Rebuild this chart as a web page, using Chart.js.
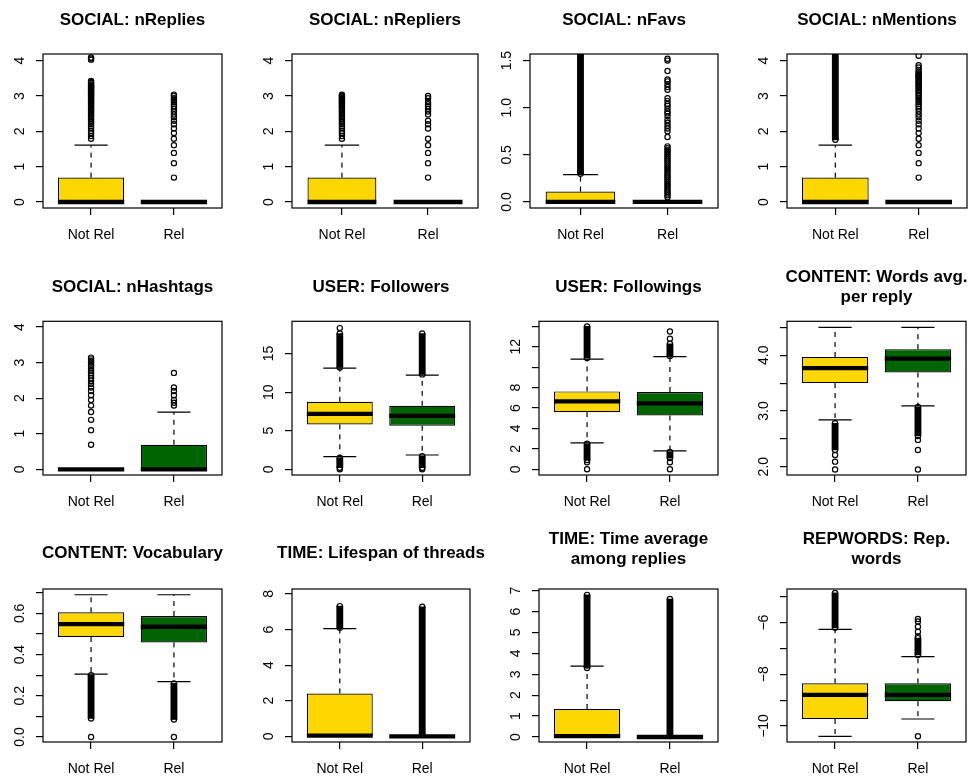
<!DOCTYPE html>
<html>
<head>
<meta charset="utf-8">
<script src="https://cdn.jsdelivr.net/npm/chart.js@4.4.0/dist/chart.umd.min.js"></script>
<style>
  html, body { margin: 0; padding: 0; background: #fff; }
  #wrap { position: relative; width: 976px; height: 778px; overflow: hidden; }
  #wrap canvas { position: absolute; }
</style>
</head>
<body>
<div id="wrap"></div>
<script>
// ---- data ----
var groups = ["Not Rel", "Rel"];
var fills = ["#FFD700", "#006400"];

var titles = [
  ["SOCIAL: nReplies"], ["SOCIAL: nRepliers"], ["SOCIAL: nFavs"], ["SOCIAL: nMentions"],
  ["SOCIAL: nHashtags"], ["USER: Followers"], ["USER: Followings"], ["CONTENT: Words avg.", "per reply"],
  ["CONTENT: Vocabulary"], ["TIME: Lifespan of threads"], ["TIME: Time average", "among replies"], ["REPWORDS: Rep.", "words"]
];

// box stats per panel: [Not Rel, Rel]
var whiskerLow  = [[0,0],[0,0],[0,0],[0,0],[0,0],[1.63,1.85],[2.59,1.80],[2.84,3.09],[0.305,0.269],[0,0],[0,0],[-10.40,-9.73]];
var quart1      = [[0,0],[0,0],[0,0],[0,0],[0,0],[5.82,5.64],[5.60,5.27],[3.50,3.69],[0.485,0.459],[0,0],[0,0],[-9.73,-9.04]];
var medians     = [[0,0],[0,0],[0,0],[0,0],[0,0],[7.19,6.93],[6.65,6.45],[3.77,3.94],[0.548,0.535],[0.04,0],[0.04,0],[-8.80,-8.80]];
var quart3      = [[0.69,0],[0.69,0],[0.11,0],[0.69,0],[0,0.69],[8.75,8.23],[7.63,7.57],[3.97,4.11],[0.605,0.587],[2.41,0.04],[1.34,0.04],[-8.35,-8.35]];
var whiskerHigh = [[1.61,0],[1.61,0],[0.29,0],[1.61,0],[0,1.61],[13.1,12.2],[10.8,11.04],[4.50,4.50],[0.69,0.69],[6.05,0.04],[3.39,0.04],[-6.26,-7.32]];

// single outliers per panel: [Not Rel, Rel]
var outNReplies = [
  [1.79,1.87,1.95,2.01,2.08,2.14,2.20,2.25,2.30,2.35,2.40,2.44,2.48,2.52,2.56,2.60,2.64,2.67,2.71,2.74,2.77,2.80,2.83,2.86,2.89,2.92,2.94,2.97,3.00,3.02,3.04,3.07,3.09,3.11,3.14,3.16,3.18,3.20,3.22,3.24,3.26,3.28,3.30,3.33,3.37,3.40,3.43,4.03,4.06,4.09],
  [0.69,1.10,1.39,1.61,1.79,1.95,2.08,2.20,2.30,2.40,2.48,2.56,2.64,2.71,2.77,2.83,2.89,2.94,3.00,3.04]
];
var outNRepliers = [
  [1.79,1.87,1.95,2.01,2.08,2.14,2.20,2.25,2.30,2.35,2.40,2.44,2.48,2.52,2.56,2.60,2.64,2.67,2.71,2.74,2.77,2.80,2.83,2.86,2.89,2.92,2.94,2.97,3.00,3.02,3.04],
  [0.69,1.10,1.39,1.61,1.79,2.08,2.20,2.30,2.48,2.56,2.64,2.71,2.77,2.83,2.94,3.00]
];
var outNFavs = [
  [],
  [0.05,0.07,0.09,0.11,0.13,0.15,0.17,0.19,0.21,0.23,0.25,0.27,0.29,0.31,0.33,0.35,0.37,0.39,0.41,0.43,0.45,0.47,0.49,0.51,0.53,0.55,0.57,0.59,
   0.69,0.75,0.78,0.81,0.84,0.87,0.91,0.94,0.96,0.99,1.02,1.04,1.07,1.10,1.19,1.22,1.25,1.28,1.30,1.39,1.50,1.52]
];
var outNMentions = [
  [],
  [0.69,1.10,1.39,1.61,1.79,1.95,2.08,2.20,2.30,2.40,2.48,2.56,2.64,2.71,2.77,2.83,2.89,2.94,3.00,3.04,3.09,3.14,3.18,3.22,3.26,3.30,3.33,3.37,3.40,3.43,3.47,3.50,3.53,3.56,3.58,3.61,3.64,3.69,3.74,3.81,3.87,4.14]
];
var outNHashtags = [
  [0.69,1.10,1.39,1.61,1.79,1.95,2.08,2.20,2.30,2.40,2.48,2.56,2.64,2.71,2.77,2.83,2.89,2.94,3.00,3.04,3.09,3.14],
  [1.79,1.87,1.95,2.08,2.20,2.30,2.71]
];
var outFollowers  = [[18.3, 0], [0]];
var outFollowings = [[0.69, 0], [12.8, 13.5, 0.69, 0]];
var outWordsAvg   = [[2.21, 2.09, 1.95], [2.48, 2.30, 1.95]];
var outVocabulary = [[0], [0]];
var outLifespan   = [[], []];
var outTimeAvg    = [[], []];
var outRepWords   = [[], [-6.54, -6.35, -6.16, -5.96, -5.86, -10.40]];

// runs of overlapping outliers (from, to) per panel: [Not Rel, Rel]
var denseNReplies  = [[], []];
var denseNRepliers = [[], []];
var denseNFavs     = [[[0.30, 1.65]], []];
var denseNMentions = [[[1.76, 4.30]], []];
var denseNHashtags = [[], []];
var denseFollowers  = [[[13.2, 17.6], [0.2, 1.5]], [[12.3, 17.6], [0.2, 1.7]]];
var denseFollowings = [[[10.9, 14.0], [0.9, 2.5]], [[11.1, 12.3], [1.1, 1.7]]];
var denseWordsAvg   = [[[2.30, 2.78]], [[2.55, 3.07]]];
var denseVocabulary = [[[0.09, 0.30]], [[0.085, 0.26]]];
var denseLifespan   = [[[6.1, 7.32]], [[0.1, 7.28]]];
var denseTimeAvg    = [[[3.3, 6.8]], [[0.05, 6.6]]];
var denseRepWords   = [[[-6.2, -4.85]], [[-7.25, -6.6]]];

var outlierPoints = [outNReplies, outNRepliers, outNFavs, outNMentions, outNHashtags, outFollowers,
  outFollowings, outWordsAvg, outVocabulary, outLifespan, outTimeAvg, outRepWords];
var denseOutliers = [denseNReplies, denseNRepliers, denseNFavs, denseNMentions, denseNHashtags, denseFollowers,
  denseFollowings, denseWordsAvg, denseVocabulary, denseLifespan, denseTimeAvg, denseRepWords];

// y axes
var yMin = [-0.17, -0.17, -0.064, -0.17, -0.16, -0.74, -0.56, 1.85, -0.024, -0.32, -0.24, -10.62];
var yMax = [4.19, 4.19, 1.57, 4.19, 4.16, 19.18, 14.5, 4.61, 0.718, 8.28, 7.08, -4.70];
var yTicks = [
  [0,1,2,3,4], [0,1,2,3,4], [0,0.5,1,1.5], [0,1,2,3,4], [0,1,2,3,4], [0,5,10,15],
  [0,2,4,6,8,10,12,14], [2,2.5,3,3.5,4,4.5], [0,0.1,0.2,0.3,0.4,0.5,0.6,0.7],
  [0,2,4,6,8], [0,1,2,3,4,5,6,7], [-10,-9,-8,-7,-6,-5]
];
var yTickLabels = [
  ["0","1","2","3","4"], ["0","1","2","3","4"], ["0.0","0.5","1.0","1.5"], ["0","1","2","3","4"],
  ["0","1","2","3","4"], ["0","5","10","15"], ["0","2","4","6","8","","12",""],
  ["2.0","","3.0","","4.0",""], ["0.0","","0.2","","0.4","","0.6",""],
  ["0","2","4","6","8"], ["0","1","2","3","4","5","6","7"], ["\u221210","","\u22128","","\u22126",""]
];

// ---- layout ----
var boxLeft  = [43.3, 291.7, 530, 787.3, 43.3, 291.7, 539.3, 787.3, 43.3, 291.7, 539.3, 787.3];
var boxRight = [222.7, 477.3, 718.3, 967.3, 222.7, 470, 718.3, 966.7, 222.7, 470, 718.3, 966.7];
var rowTop = [54, 321.3, 589];
var rowBottom = [208.3, 475, 741.7];
var titleMid = [[19.7, 19.7], [287, 276.7], [553, 538.8]];
var stapleFrac = [0.5, 0.5, 0.5, 0.5, 0.5, 0.5, 0.5, 0.5, 0.5, 0.5, 0.5, 0.5];
var M = 60, AXIS_H = 45, LINE_H = 17 * 1.15;
var FONT = '"Liberation Sans", Arial, Helvetica, sans-serif';

function makePanel(i) {
  var row = Math.floor(i / 4);
  var lines = titles[i].length;
  var mid = titleMid[row][lines - 1] + 0.8;
  var top = Math.floor(mid - LINE_H / 2 - 3);
  var padTop = mid - LINE_H / 2 - top;
  var padBottom = rowTop[row] - top - padTop - lines * LINE_H;
  var left = Math.round(boxLeft[i] - M);
  var w = Math.round(boxRight[i] - boxLeft[i]) + 2 * M;
  var h = Math.round(rowBottom[row] - top) + AXIS_H;

  var cv = document.createElement('canvas');
  cv.width = w; cv.height = h;
  cv.style.left = left + 'px'; cv.style.top = top + 'px';
  document.getElementById('wrap').appendChild(cv);

  var points = [], runs = [], boxes = [];
  for (var g = 0; g < 2; g++) {
    outlierPoints[i][g].forEach(function (v) { points.push({x: g + 1, y: v}); });
    denseOutliers[i][g].forEach(function (r) {
      runs.push({x: g + 1, y: [r[0], r[1]]});
      points.push({x: g + 1, y: r[0]}, {x: g + 1, y: r[1]});
    });
    boxes.push({x: g + 1, y: [quart1[i][g], quart3[i][g]]});
  }

  // whiskers, staples and medians, drawn right after the boxes
  var boxParts = {
    id: 'boxParts' + i,
    afterDatasetDraw: function (chart, args) {
      if (args.index !== 2) return;
      var ctx = chart.ctx, xs = chart.scales.x, ys = chart.scales.y, a = chart.chartArea;
      ctx.save();
      ctx.beginPath(); ctx.rect(a.left, a.top, a.right - a.left, a.bottom - a.top); ctx.clip();
      ctx.strokeStyle = '#000';
      ctx.lineCap = 'butt';
      for (var g = 0; g < 2; g++) {
        var half = args.meta.data[g].width / 2;
        var sw = half * stapleFrac[i];
        var cx = xs.getPixelForValue(g + 1);
        var y1 = ys.getPixelForValue(quart1[i][g]), y3 = ys.getPixelForValue(quart3[i][g]);
        var yl = ys.getPixelForValue(whiskerLow[i][g]), yh = ys.getPixelForValue(whiskerHigh[i][g]);
        var ym = ys.getPixelForValue(medians[i][g]);
        ctx.lineWidth = 1.2;
        ctx.setLineDash([5, 5]);
        ctx.beginPath(); ctx.moveTo(cx, y3); ctx.lineTo(cx, yh); ctx.stroke();
        ctx.beginPath(); ctx.moveTo(cx, y1); ctx.lineTo(cx, yl); ctx.stroke();
        ctx.setLineDash([]);
        ctx.beginPath();
        ctx.moveTo(cx - sw, yh); ctx.lineTo(cx + sw, yh);
        ctx.moveTo(cx - sw, yl); ctx.lineTo(cx + sw, yl);
        ctx.stroke();
        ctx.lineWidth = 4.3;
        ctx.beginPath(); ctx.moveTo(cx - half, ym); ctx.lineTo(cx + half, ym); ctx.stroke();
      }
      ctx.restore();
    },
    afterDraw: function (chart) {
      var ctx = chart.ctx, a = chart.chartArea, ys = chart.scales.y;
      ctx.save();
      ctx.strokeStyle = '#000'; ctx.lineWidth = 1.2;
      ctx.strokeRect(a.left, a.top, a.right - a.left, a.bottom - a.top);
      ctx.fillStyle = '#000';
      ctx.font = '14px ' + FONT;
      ctx.textAlign = 'center'; ctx.textBaseline = 'middle';
      yTicks[i].forEach(function (v, k) {
        var lab = yTickLabels[i][k];
        if (!lab) return;
        ctx.save();
        ctx.translate(a.left - 23, ys.getPixelForValue(v));
        ctx.rotate(-Math.PI / 2);
        ctx.fillText(lab, 0, 0);
        ctx.restore();
      });
      ctx.restore();
    }
  };

  new Chart(cv, {
    type: 'bar',
    data: {
      datasets: [
        { type: 'scatter', data: points, pointRadius: 2.6, pointHoverRadius: 2.6, pointBorderWidth: 1.2,
          pointBorderColor: '#000', pointBackgroundColor: 'rgba(0,0,0,0)', showLine: false },
        { type: 'bar', data: runs, backgroundColor: '#000', borderWidth: 0, barThickness: 6.2, grouped: false },
        { type: 'bar', data: boxes, backgroundColor: fills, borderColor: '#000', borderWidth: 1.2,
          borderSkipped: false, grouped: false, barPercentage: 0.8, categoryPercentage: 1 }
      ]
    },
    options: {
      responsive: false,
      animation: false,
      devicePixelRatio: 1,
      events: [],
      layout: { padding: 0 },
      plugins: {
        legend: { display: false },
        tooltip: { enabled: false },
        title: {
          display: true, text: titles[i], color: '#000', fullSize: true,
          font: { family: FONT, size: 17, weight: 'bold', lineHeight: 1.15 },
          padding: { top: padTop, bottom: padBottom }
        }
      },
      scales: {
        x: {
          type: 'linear', min: 0.42, max: 2.58, bounds: 'data', offset: false,
          grid: { display: true, offset: false, drawOnChartArea: false, drawTicks: true, tickLength: 7, color: '#000', lineWidth: 1.2 },
          border: { display: false },
          ticks: { color: '#000', font: { family: FONT, size: 14 }, padding: 12, autoSkip: false, maxRotation: 0,
                   callback: function (v) { return groups[v - 1]; } },
          afterBuildTicks: function (s) { s.ticks = [{value: 1}, {value: 2}]; },
          afterFit: function (s) { s.height = AXIS_H; }
        },
        y: {
          type: 'linear', position: 'left', min: yMin[i], max: yMax[i], bounds: 'data',
          grid: { display: true, offset: false, drawOnChartArea: false, drawTicks: true, tickLength: 7, color: '#000', lineWidth: 1.2 },
          border: { display: false },
          ticks: { display: false },
          afterBuildTicks: function (s) { s.ticks = yTicks[i].map(function (v) { return {value: v}; }); },
          afterFit: function (s) { s.width = M; }
        },
        yRight: {
          type: 'linear', position: 'right', display: true,
          grid: { display: false }, border: { display: false }, ticks: { display: false },
          afterFit: function (s) { s.width = M; }
        }
      }
    },
    plugins: [boxParts]
  });
}

for (var i = 0; i < 12; i++) makePanel(i);
</script>
</body>
</html>
